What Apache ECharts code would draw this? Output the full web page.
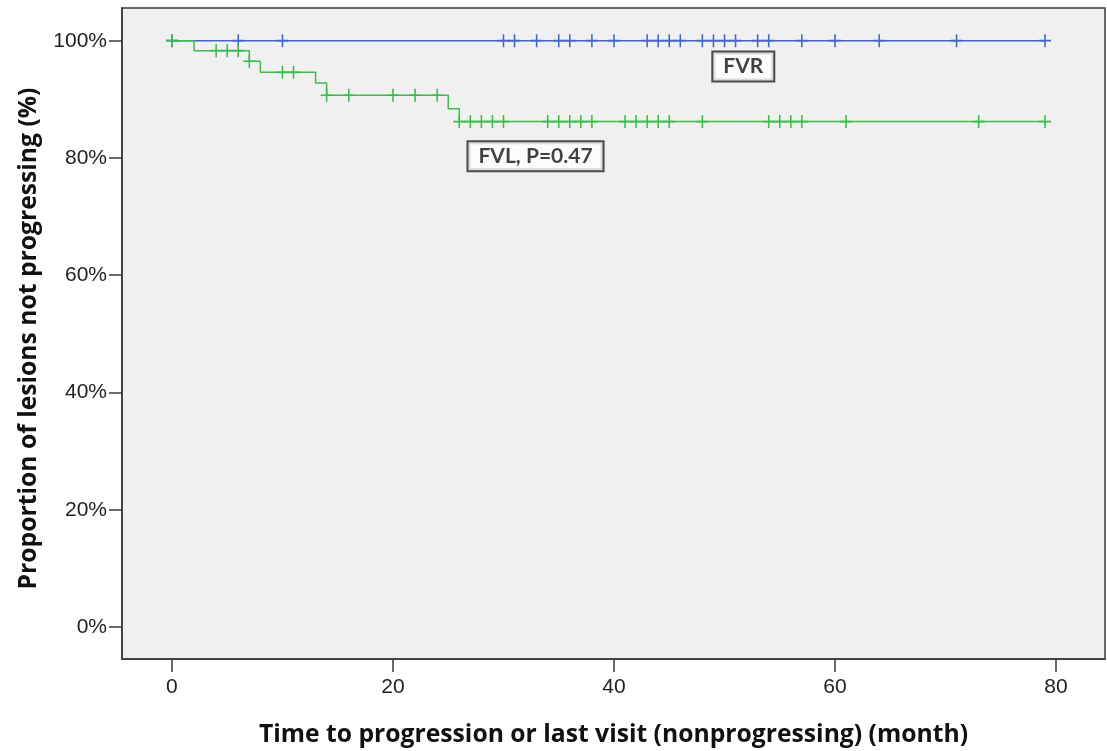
<!DOCTYPE html>
<html>
<head>
    <meta charset="utf-8">
    <script src="https://cdn.jsdelivr.net/npm/echarts@6/dist/echarts.min.js"></script>
    <style>
        html, body { margin: 0; padding: 0; background: #fff; }
    </style>
</head>
<body>
    <div id="main" style="width:1107px;height:751px;"></div>
    <script type="text/javascript">
        // Kaplan-Meier steps (month, % not progressing)
        var fvrStepX = [0, 79];
        var fvrStepY = [100, 100];
        var fvlStepX = [0, 2, 7, 8, 13, 14, 25, 26, 79];
        var fvlStepY = [100, 98.3, 96.5, 94.6, 92.8, 90.7, 88.4, 86.2, 86.2];

        // censored observations (month)
        var fvrCensor = [0, 6, 10, 30, 31, 33, 35, 36, 38, 40, 43, 44, 45, 46, 48, 49, 50, 51, 53, 54, 57, 60, 64, 71, 79];
        var fvlCensor = [0, 4, 5, 6, 7, 10, 11, 14, 16, 20, 22, 24, 26, 27, 28, 29, 30, 34, 35, 36, 37, 38,
                         41, 42, 43, 44, 45, 48, 54, 55, 56, 57, 61, 73, 79];

        var xTicks = [0, 20, 40, 60, 80];
        var yTicks = [0, 20, 40, 60, 80, 100];

        var labelText = ['FVR', 'FVL, P=0.47'];
        var labelX = [51.7, 32.9];
        var labelY = [95.6, 80.3];

        var blue = '#4565c2';
        var green = '#3dbb4c';
        var axisColor = '#3a3a3a';
        var plusMark = 'path://M-0.13,-1H0.13V1H-0.13Z M-1,-0.13H1V0.13H-1Z';

        function pairs(xs, ys) {
            var out = [];
            for (var i = 0; i < xs.length; i++) out.push([xs[i], ys[i]]);
            return out;
        }
        // survival level at time t
        function levelAt(xs, ys, t) {
            var v = ys[0];
            for (var i = 0; i < xs.length; i++) {
                if (xs[i] <= t) v = ys[i];
            }
            return v;
        }
        function censorPoints(times, xs, ys) {
            return times.map(function (t) { return [t, levelAt(xs, ys, t)]; });
        }

        var myChart = echarts.init(document.getElementById('main'));
        var tickFont = { fontFamily: 'Liberation Sans', fontSize: 21, color: '#222' };
        var titleFont = { fontFamily: 'Open Sans', fontWeight: 'bold', fontSize: 24.7, color: '#111' };

        var option = {
            animation: false,
            backgroundColor: '#fff',
            grid: {
                left: 122, right: 2, top: 8, bottom: 92,
                outerBoundsMode: 'none',
                containLabel: false,
                show: true,
                backgroundColor: '#f0f0f0',
                borderColor: axisColor,
                borderWidth: 1.5
            },
            xAxis: {
                type: 'value',
                min: -4.52,
                max: 84.43,
                name: 'Time to progression or last visit (nonprogressing) (month)',
                nameLocation: 'middle',
                nameGap: 63,
                nameTextStyle: titleFont,
                axisLine: { show: true, onZero: false, lineStyle: { color: axisColor, width: 1.5 } },
                axisTick: { show: true, length: 13, customValues: xTicks, lineStyle: { color: axisColor, width: 1.5 } },
                axisLabel: Object.assign({ customValues: xTicks, margin: 18 }, tickFont),
                splitLine: { show: false }
            },
            yAxis: {
                type: 'value',
                min: -5.46,
                max: 105.58,
                name: 'Proportion of lesions not progressing (%)',
                nameLocation: 'middle',
                nameGap: 81,
                nameTextStyle: Object.assign({ padding: [0, 10, 0, 0] }, titleFont),
                axisLine: { show: true, onZero: false, lineStyle: { color: axisColor, width: 1.5 } },
                axisTick: { show: true, length: 13, customValues: yTicks, lineStyle: { color: axisColor, width: 1.5 } },
                axisLabel: Object.assign({ customValues: yTicks, margin: 15, formatter: '{value}%' }, tickFont),
                splitLine: { show: false }
            },
            series: [
                {
                    name: 'FVR',
                    type: 'line',
                    step: 'end',
                    data: pairs(fvrStepX, fvrStepY),
                    showSymbol: false,
                    lineStyle: { color: blue, width: 1.5 },
                    z: 2
                },
                {
                    name: 'FVL',
                    type: 'line',
                    step: 'end',
                    data: pairs(fvlStepX, fvlStepY),
                    showSymbol: false,
                    lineStyle: { color: green, width: 1.5 },
                    z: 3
                },
                {
                    name: 'FVR censored',
                    type: 'scatter',
                    data: censorPoints(fvrCensor, fvrStepX, fvrStepY),
                    symbol: plusMark,
                    symbolSize: [12, 13],
                    itemStyle: { color: blue, opacity: 1 },
                    z: 4
                },
                {
                    name: 'FVL censored',
                    type: 'scatter',
                    data: censorPoints(fvlCensor, fvlStepX, fvlStepY),
                    symbol: plusMark,
                    symbolSize: [12, 13],
                    itemStyle: { color: green, opacity: 1 },
                    z: 5
                },
                {
                    name: 'labels',
                    type: 'scatter',
                    symbolSize: 0,
                    silent: true,
                    data: labelText.map(function (t, i) { return [labelX[i], labelY[i], t]; }),
                    label: {
                        show: true,
                        position: 'inside',
                        formatter: function (p) { return p.value[2]; },
                        fontFamily: 'Lato',
                        fontWeight: 'bold',
                        fontSize: 21,
                        color: '#111',
                        backgroundColor: '#fff',
                        borderColor: '#222',
                        borderWidth: 2,
                        padding: [4, 10, 3, 10]
                    },
                    z: 6
                }
            ]
        };
        myChart.setOption(option);
    </script>
</body>
</html>
